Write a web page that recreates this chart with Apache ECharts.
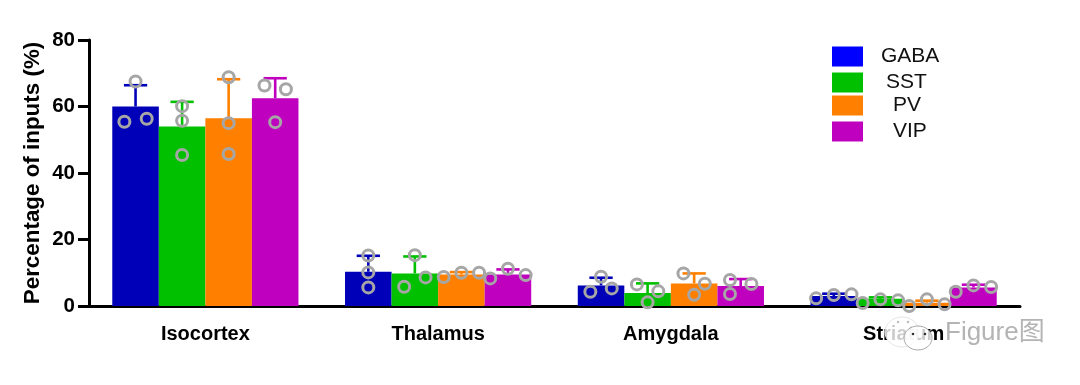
<!DOCTYPE html>
<html><head><meta charset="utf-8">
<style>html,body{margin:0;padding:0;background:#fff}#c{width:1080px;height:385px}</style>
<script src="https://cdn.jsdelivr.net/npm/echarts@6/dist/echarts.min.js"></script>
</head><body><div id="c"></div>
<script>
const categories = ['Isocortex','Thalamus','Amygdala','Striatum'];
const seriesNames = ['GABA','SST','PV','VIP'];
const barColors = ['#0000B8','#00C000','#FF8000','#BF00BF'];
const legendColors = ['#0000FF','#00C000','#FF8000','#BF00BF'];

const gabaMeans = [60, 10.3, 6.2, 3.0];
const sstMeans  = [54, 9.8, 3.9, 2.2];
const pvMeans   = [56.5, 9.5, 6.8, 1.0];
const vipMeans  = [62.5, 9.5, 6.0, 5.6];

const gabaTops = [66.4, 15.1, 8.5, 3.7];
const sstTops  = [61.4, 14.9, 6.8, 2.6];
const pvTops   = [68.2, 10.2, 9.8, 1.6];
const vipTops  = [68.5, 11.0, 8.1, 6.4];

const gabaPoints = [[55.4,67.5,56.3],[15.2,10.1,5.6],[4.3,8.8,5.3],[2.3,3.3,3.5]];
const sstPoints  = [[60.1,55.7,45.4],[5.8,15.3,8.6],[6.5,1.1,4.4],[0.9,2.0,1.7]];
const pvPoints   = [[68.8,55.0,45.7],[8.7,10.0,10.0],[9.8,3.4,6.7],[0.0,2.0,0.5]];
const vipPoints  = [[66.3,55.3,65.2],[8.3,11.2,9.3],[7.8,3.6,6.6],[4.3,6.2,5.7]];

// horizontal scatter of the three replicates, in bar widths from the bar centre
const gabaJitter = [[-0.24,0,0.24],[0,0,0],[-0.23,0,0.23],[-0.38,0,0.38]];
const sstJitter  = [[0,0,0],[-0.23,0,0.23],[-0.23,0,0.23],[-0.38,0,0.38]];
const pvJitter   = [[0,0,0],[-0.38,0,0.38],[-0.23,0,0.23],[-0.38,0,0.38]];
const vipJitter  = [[-0.23,0,0.23],[-0.38,0,0.38],[-0.23,-0.23,0.23],[-0.38,0,0.38]];

const means = [gabaMeans,sstMeans,pvMeans,vipMeans];
const tops = [gabaTops,sstTops,pvTops,vipTops];
const points = [gabaPoints,sstPoints,pvPoints,vipPoints];
const jitters = [gabaJitter,sstJitter,pvJitter,vipJitter];

const barUnit = 0.2;
const centre = (g,s) => g + 0.5 + (s - 1.5) * barUnit;

const series = [];
seriesNames.forEach((name,s)=>{
  series.push({type:'bar',name,xAxisIndex:0,yAxisIndex:0,data:means[s],barWidth:'20%',barGap:'0%',
    itemStyle:{color:barColors[s]},z:2,silent:true});
});
seriesNames.forEach((name,s)=>{
  series.push({type:'custom',name:name+' error',xAxisIndex:1,yAxisIndex:0,z:3,silent:true,clip:false,
    encode:{x:0,y:[1,2]},
    data:categories.map((c,g)=>[centre(g,s),means[s][g],tops[s][g]]),
    renderItem(params,api){
      const x=api.value(0);
      const a=api.coord([x,api.value(1)]), b=api.coord([x,api.value(2)]);
      const half=api.size([barUnit/2,0])[0]/2;
      const st={stroke:barColors[s],lineWidth:2.6,fill:null};
      return {type:'group',children:[
        {type:'line',shape:{x1:a[0],y1:a[1],x2:b[0],y2:b[1]},style:st},
        {type:'line',shape:{x1:b[0]-half,y1:b[1],x2:b[0]+half,y2:b[1]},style:st}
      ]};
    }});
});
seriesNames.forEach((name,s)=>{
  const data=[];
  categories.forEach((c,g)=>points[s][g].forEach((v,i)=>{
    data.push([centre(g,s)+jitters[s][g][i]*barUnit,v]);
  }));
  series.push({type:'scatter',name:name+' replicates',xAxisIndex:1,yAxisIndex:0,z:4,silent:true,clip:false,
    data,symbol:'circle',symbolSize:11,
    itemStyle:{color:'rgba(0,0,0,0)',borderColor:'#A6A6A6',borderWidth:3,opacity:1}});
});

const legendPos=[{top:46,pad:13},{top:72,pad:18},{top:95,pad:25},{top:121,pad:25}];
const legend=seriesNames.map((name,s)=>({
  left:832,top:legendPos[s].top,padding:0,itemWidth:31,itemHeight:20,selectedMode:false,
  data:[{name,icon:'rect',itemStyle:{color:legendColors[s]}}],
  textStyle:{fontFamily:'Liberation Sans',fontSize:21,color:'#111',padding:[0,0,0,legendPos[s].pad]}
}));

const chart=echarts.init(document.getElementById('c'),null,{renderer:'canvas'});
chart.setOption({
  animation:false,backgroundColor:'#fff',
  legend,
  grid:{left:89,top:40,width:931,height:266,containLabel:false},
  xAxis:[
    {type:'category',data:categories,axisLine:{lineStyle:{color:'#000',width:3}},axisTick:{show:false},
     axisLabel:{color:'#000',fontFamily:'Liberation Sans',fontWeight:'bold',fontSize:20,margin:18}},
    {type:'value',min:0,max:4,show:false}
  ],
  yAxis:{type:'value',min:0,max:80,interval:20,name:'Percentage of inputs (%)',nameLocation:'middle',nameGap:45,nameMoveOverlap:false,
    nameTextStyle:{color:'#000',fontFamily:'Liberation Sans',fontWeight:'bold',fontSize:22.4},
    axisLine:{show:true,lineStyle:{color:'#000',width:3}},
    axisTick:{show:true,length:11,lineStyle:{color:'#000',width:3}},
    axisLabel:{color:'#000',fontFamily:'Liberation Sans',fontWeight:'bold',fontSize:20.5,margin:14},
    splitLine:{show:false}},
  series,
  graphic:[
    {type:'ellipse',shape:{cx:902,cy:332,rx:17,ry:15},z:50,style:{fill:'rgba(255,255,255,0.8)',stroke:'#e4e4e4',lineWidth:1}},
    {type:'ellipse',shape:{cx:918,cy:338,rx:14,ry:12},z:51,style:{fill:'rgba(255,255,255,0.8)',stroke:'#a8a8a8',lineWidth:1}},
    {type:'circle',shape:{cx:898,cy:322,r:1.2},z:52,style:{fill:'#bbb'}},
    {type:'circle',shape:{cx:908,cy:322,r:1.2},z:52,style:{fill:'#bbb'}},
    {type:'circle',shape:{cx:913,cy:334,r:1.3},z:52,style:{fill:'#333'}},
    {type:'circle',shape:{cx:925,cy:334,r:1.3},z:52,style:{fill:'#333'}},
    {type:'text',left:945,top:320,z:52,style:{text:'Figure图',fill:'#b4b4b4',fontFamily:'Liberation Sans, Noto Sans CJK SC',fontSize:26}}
  ]
});
</script></body></html>
